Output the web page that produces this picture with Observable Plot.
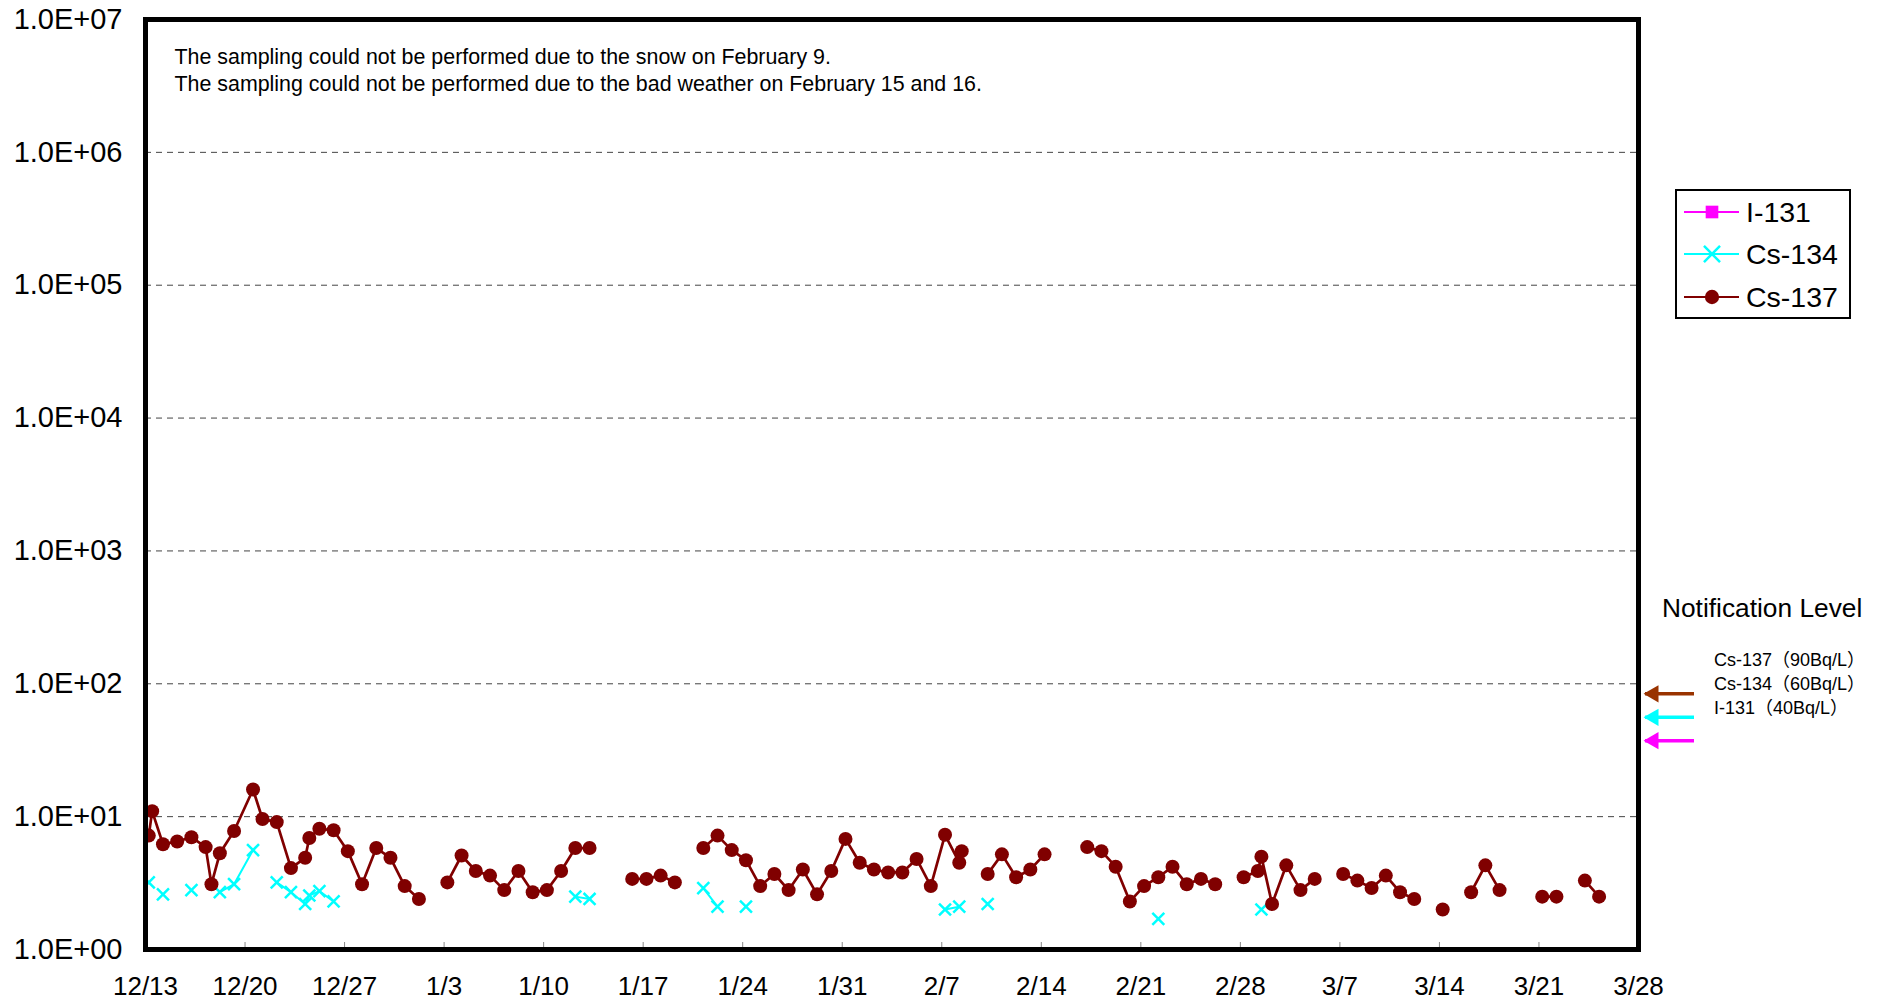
<!DOCTYPE html>
<html><head><meta charset="utf-8">
<script src="https://cdn.jsdelivr.net/npm/d3@7"></script>
<script src="https://cdn.jsdelivr.net/npm/@observablehq/plot@0.6"></script>
<style>
html,body{margin:0;padding:0;background:#fff;overflow:hidden}
#wrap{position:relative;width:1885px;height:1005px}
#wrap svg{display:block}
#overlay{position:absolute;left:0;top:0;pointer-events:none}
</style></head><body><div id="wrap"></div>
<script>
// ---- data ----
const sampleTimes = [
"2013-12-12T05:30Z","2013-12-13T05:30Z","2013-12-13T11:15Z","2013-12-14T05:30Z","2013-12-15T05:30Z",
"2013-12-16T05:30Z","2013-12-17T05:30Z","2013-12-17T15:20Z","2013-12-18T05:30Z","2013-12-19T05:30Z",
"2013-12-20T13:30Z","2013-12-21T05:30Z","2013-12-22T05:30Z","2013-12-23T05:30Z","2013-12-24T05:30Z",
"2013-12-24T12:30Z","2013-12-25T05:30Z","2013-12-26T05:30Z","2013-12-27T05:30Z","2013-12-28T05:30Z",
"2013-12-29T05:30Z","2013-12-30T05:30Z","2013-12-31T05:30Z","2014-01-01T05:30Z","2014-01-02T05:30Z",
"2014-01-03T05:30Z","2014-01-04T05:30Z","2014-01-05T05:30Z","2014-01-06T05:30Z","2014-01-07T05:30Z",
"2014-01-08T05:30Z","2014-01-09T05:30Z","2014-01-10T05:30Z","2014-01-11T05:30Z","2014-01-12T05:30Z",
"2014-01-13T05:30Z","2014-01-14T05:30Z","2014-01-15T05:30Z","2014-01-16T05:30Z","2014-01-17T05:30Z",
"2014-01-18T05:30Z","2014-01-19T05:30Z","2014-01-20T05:30Z","2014-01-21T05:30Z","2014-01-22T05:30Z",
"2014-01-23T05:30Z","2014-01-24T05:30Z","2014-01-25T05:30Z","2014-01-26T05:30Z","2014-01-27T05:30Z",
"2014-01-28T05:30Z","2014-01-29T05:30Z","2014-01-30T05:30Z","2014-01-31T05:30Z","2014-02-01T05:30Z",
"2014-02-02T05:30Z","2014-02-03T05:30Z","2014-02-04T05:30Z","2014-02-05T05:30Z","2014-02-06T05:30Z",
"2014-02-07T05:30Z","2014-02-08T05:30Z","2014-02-08T09:40Z","2014-02-09T05:30Z","2014-02-10T05:30Z",
"2014-02-11T05:30Z","2014-02-12T05:30Z","2014-02-13T05:30Z","2014-02-14T05:30Z","2014-02-15T05:30Z",
"2014-02-16T05:30Z","2014-02-17T05:30Z","2014-02-18T05:30Z","2014-02-19T05:30Z","2014-02-20T05:30Z",
"2014-02-21T05:30Z","2014-02-22T05:30Z","2014-02-23T05:30Z","2014-02-24T05:30Z","2014-02-25T05:30Z",
"2014-02-26T05:30Z","2014-02-27T05:30Z","2014-02-28T05:30Z","2014-03-01T05:30Z","2014-03-01T11:30Z",
"2014-03-02T05:30Z","2014-03-03T05:30Z","2014-03-04T05:30Z","2014-03-05T05:30Z","2014-03-06T05:30Z",
"2014-03-07T05:30Z","2014-03-08T05:30Z","2014-03-09T05:30Z","2014-03-10T05:30Z","2014-03-11T05:30Z",
"2014-03-12T05:30Z","2014-03-13T05:30Z","2014-03-14T05:30Z","2014-03-15T05:30Z","2014-03-16T05:30Z",
"2014-03-17T05:30Z","2014-03-18T05:30Z","2014-03-19T05:30Z","2014-03-20T05:30Z","2014-03-21T05:30Z",
"2014-03-22T05:30Z","2014-03-23T05:30Z","2014-03-24T05:30Z","2014-03-25T05:30Z"
];
// Bq/L; null = not detected / no sampling
const cs137 = [
7.0,7.2,11.0,6.2,6.5,
7.0,5.9,3.1,5.3,7.8,
16.0,9.6,9.1,4.1,4.9,
6.9,8.1,7.9,5.5,3.1,
5.8,4.9,3.0,2.4,null,
3.2,5.1,3.9,3.6,2.8,
3.9,2.7,2.8,3.9,5.8,
5.8,null,null,3.4,3.4,
3.6,3.2,null,5.8,7.2,
5.6,4.7,3.0,3.7,2.8,
4.0,2.6,3.9,6.8,4.5,
4.0,3.8,3.8,4.8,3.0,
7.3,4.5,5.5,null,3.7,
5.2,3.5,4.0,5.2,null,
null,5.9,5.5,4.2,2.3,
3.0,3.5,4.2,3.1,3.4,
3.1,null,3.5,3.9,5.0,
2.2,4.3,2.8,3.4,null,
3.7,3.3,2.9,3.6,2.7,
2.4,null,2.0,null,2.7,
4.3,2.8,null,null,2.5,
2.5,null,3.3,2.5
];
const cs134 = [
2.4,3.2,null,2.6,null,
2.8,null,null,2.7,3.1,
5.6,null,3.2,2.7,2.2,
2.55,2.75,2.3,null,null,
null,null,null,null,null,
null,null,null,null,null,
null,null,null,null,2.5,
2.4,null,null,null,null,
null,null,null,2.9,2.1,
null,2.1,null,null,null,
null,null,null,null,null,
null,null,null,null,null,
2.0,2.1,null,null,2.2,
null,null,null,null,null,
null,null,null,null,null,
null,1.7,null,null,null,
null,null,null,null,2.0,
null,null,null,null,null,
null,null,null,null,null,
null,null,null,null,null,
null,null,null,null,null,
null,null,null,null
];
const i131 = []; // not detected during the period

const xTickDates = ["2013-12-13","2013-12-20","2013-12-27","2014-01-03","2014-01-10","2014-01-17","2014-01-24",
  "2014-01-31","2014-02-07","2014-02-14","2014-02-21","2014-02-28","2014-03-07","2014-03-14","2014-03-21","2014-03-28"];
const yTickValues = [1,10,100,1000,10000,100000,1000000,10000000];
const yTickLabels = ["1.0E+00","1.0E+01","1.0E+02","1.0E+03","1.0E+04","1.0E+05","1.0E+06","1.0E+07"];
const notes = [
  "The sampling could not be performed due to the snow on February 9.",
  "The sampling could not be performed due to the bad weather on February 15 and 16."
];
const seriesNames = ["I-131","Cs-134","Cs-137"];
const seriesColors = ["#FF00FF","#00FFFF","#800000"];
const seriesSymbols = ["square","times","circle"];
const levelTitle = "Notification Level";
const levelLabels = ["Cs-137（90Bq/L）","Cs-134（60Bq/L）","I-131（40Bq/L）"];
const levelValues = [90,60,40];
const levelColors = ["#993300","#00FFFF","#FF00FF"];

// ---- build ----
const rows = sampleTimes.map((t,i)=>({date:new Date(t), cs137:cs137[i], cs134:cs134[i]}));
const xTicks = xTickDates.map(d=>new Date(d+"T00:00Z"));
const levels = levelValues.map((v,i)=>({level:v, color:levelColors[i], label:levelLabels[i]}));
const font = "'Liberation Sans', Arial, 'Noto Sans CJK JP', sans-serif";
const fmt = d3.utcFormat("%-m/%-d");

const chart = Plot.plot({
  width:1885, height:1005,
  marginLeft:145, marginRight:247, marginTop:19, marginBottom:56,
  style:{fontFamily:font, background:"#fff", color:"#000", overflow:"visible"},
  x:{type:"utc", domain:[xTicks[0], xTicks[xTicks.length-1]]},
  y:{type:"log", domain:[1,1e7]},
  marks:[
    Plot.ruleY(yTickValues.slice(1,-1), {stroke:"#444", strokeWidth:1, strokeDasharray:"6,5"}),
    Plot.tickX(xTicks, {x:d=>d, stroke:"#888", strokeWidth:1, insetTop:923}),
    Plot.axisX(xTicks, {tickSize:0, tickPadding:27, fontSize:26, tickFormat:fmt}),
    Plot.axisY(yTickValues, {tickSize:0, tickPadding:23, fontSize:29, tickFormat:d=>yTickLabels[yTickValues.indexOf(d)]}),
    Plot.text([notes.join("\n")], {frameAnchor:"top-left", dx:29, dy:26, fontSize:21.4, lineHeight:1.24, fill:"#000"}),
    Plot.line(rows, {x:"date", y:"cs134", stroke:seriesColors[1], strokeWidth:2, clip:true}),
    Plot.dot(rows, {x:"date", y:"cs134", symbol:"times", r:5.5, stroke:seriesColors[1], strokeWidth:2.5, clip:true}),
    Plot.line(rows, {x:"date", y:"cs137", stroke:seriesColors[2], strokeWidth:2.7, clip:true}),
    Plot.dot(rows, {x:"date", y:"cs137", r:7, fill:seriesColors[2], stroke:"none", clip:true}),
    Plot.ruleY(levels, {y:"level", dy:4, stroke:"color", strokeWidth:3.5, insetLeft:1500, insetRight:-56}),
    Plot.dot(levels, {y:"level", dy:4, frameAnchor:"right", dx:15, symbol:"triangle", rotate:-90, r:6.4, fill:"color", stroke:"none"}),
    Plot.frame({stroke:"#000", strokeWidth:5})
  ]
});
const wrap = document.getElementById("wrap");
wrap.appendChild(chart);

// ---- legend & notification overlay ----
const ov = d3.select(wrap).append("svg").attr("id","overlay")
  .attr("width",1885).attr("height",1005).style("font-family",font);
ov.append("rect").attr("x",1676).attr("y",190).attr("width",174).attr("height",128)
  .attr("fill","#fff").attr("stroke","#000").attr("stroke-width",2);
const entryY = [212,254,297];
seriesNames.forEach((name,i)=>{
  const g = ov.append("g").attr("transform",`translate(0,${entryY[i]})`);
  g.append("line").attr("x1",1684).attr("x2",1739).attr("stroke",seriesColors[i]).attr("stroke-width",2);
  const sym = {square:d3.symbolSquare, times:d3.symbolTimes, circle:d3.symbolCircle}[seriesSymbols[i]];
  const p = g.append("path").attr("transform","translate(1712,0)")
    .attr("d", d3.symbol(sym, seriesSymbols[i]==="times"?170:160)());
  if (seriesSymbols[i]==="times") p.attr("fill","none").attr("stroke",seriesColors[i]).attr("stroke-width",2.5);
  else p.attr("fill",seriesColors[i]);
  g.append("text").attr("x",1746).attr("y",0).attr("dy","0.36em").attr("font-size",28.5).text(name);
});
ov.append("text").attr("x",1662).attr("y",617).attr("font-size",26.3).text(levelTitle);
levelLabels.forEach((t,i)=>{
  ov.append("text").attr("x",1714).attr("y",666+i*24).attr("font-size",18).text(t);
});
</script></body></html>
